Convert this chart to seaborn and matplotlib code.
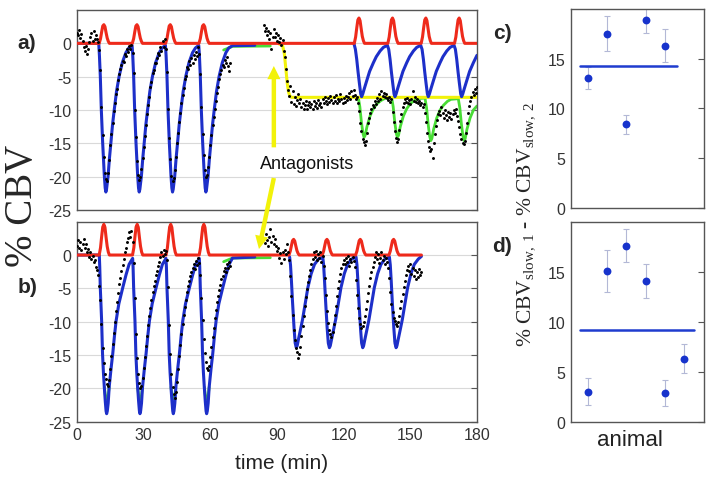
import numpy as np
import matplotlib
matplotlib.use("Agg")
import matplotlib.pyplot as plt
import seaborn as sns

sns.set_style("white")
plt.rcParams["font.family"] = ["Liberation Sans", "DejaVu Sans"]
plt.rcParams["mathtext.fontset"] = "custom"
plt.rcParams["mathtext.rm"] = "Liberation Serif"

RED = "#ee2a1b"
BLUE = "#1d2fc9"
GREEN = "#48dc35"
YELLOW = "#f2f20a"
DOT_BLUE = "#1733cc"

# ---------------- panel a: fitted curves ----------------
RED_A_T = [0, 10.0, 10.6, 11.1, 11.6, 12.1, 12.6, 13.1, 13.6, 14.1, 14.6,
           24.9, 25.5, 26.0, 26.5, 27.0, 27.5, 28.0, 28.5, 29.0, 29.5,
           39.9, 40.5, 41.0, 41.5, 42.0, 42.5, 43.0, 43.5, 44.0, 44.5,
           54.9, 55.5, 56.0, 56.5, 57.0, 57.5, 58.0, 58.5, 59.0, 59.5,
           124.8, 125.4, 125.9, 126.4, 126.9, 127.4, 127.9, 128.4, 128.9, 129.4,
           139.9, 140.5, 141.0, 141.5, 142.0, 142.5, 143.0, 143.5, 144.0, 144.5,
           154.9, 155.5, 156.0, 156.5, 157.0, 157.5, 158.0, 158.5, 159.0, 159.5,
           169.9, 170.5, 171.0, 171.5, 172.0, 172.5, 173.0, 173.5, 174.0, 174.5, 180.0]
RED_A_Y = [0, 0, 0.7, 1.7, 2.6, 2.8, 2.5, 1.6, 0.8, 0.3, 0,
           0, 0.7, 1.7, 2.6, 2.8, 2.5, 1.6, 0.8, 0.3, 0,
           0, 0.7, 1.7, 2.6, 2.8, 2.5, 1.6, 0.8, 0.3, 0,
           0, 0.7, 1.7, 2.6, 2.8, 2.5, 1.6, 0.8, 0.3, 0,
           0, 0.95, 2.3, 3.5, 3.8, 3.4, 2.2, 1.05, 0.4, 0,
           0, 0.95, 2.3, 3.5, 3.8, 3.4, 2.2, 1.05, 0.4, 0,
           0, 0.95, 2.3, 3.5, 3.8, 3.4, 2.2, 1.05, 0.4, 0,
           0, 0.95, 2.3, 3.5, 3.8, 3.4, 2.2, 1.05, 0.4, 0, 0]

BLUE_A1_T = [0, 9.8, 10.1, 10.5, 10.95, 11.55, 12.3, 12.7, 13.0, 13.3, 14.0, 14.6, 15.3, 16.0, 16.8, 17.8, 19.0, 20.4, 22.0, 23.3,
             24.8, 25.1, 25.5, 25.95, 26.55, 27.3, 27.7, 28.0, 28.3, 29.0, 29.6, 30.3, 31.0, 31.8, 32.8, 34.0, 35.4, 37.0, 38.3,
             39.8, 40.1, 40.5, 40.95, 41.55, 42.3, 42.7, 43.0, 43.3, 44.0, 44.6, 45.3, 46.0, 46.8, 47.8, 49.0, 50.4, 52.0, 53.3,
             54.8, 55.1, 55.5, 55.95, 56.55, 57.3, 57.7, 58.0, 58.3, 59.0, 59.6, 60.3, 61.0, 61.8, 62.8, 64.0, 65.4, 67.0, 68.3,
             70.0, 80.0]
BLUE_A1_Y = [0, 0, -1.8, -4.9, -9.9, -14.8, -19.8, -21.7, -22.3, -21.9, -19.9, -17.3, -14.8, -12.2, -9.9, -7.2, -4.9, -2.9, -1.4, -0.7,
             -0.3, -1.8, -4.9, -9.9, -14.8, -19.8, -21.7, -22.3, -21.9, -19.9, -17.3, -14.8, -12.2, -9.9, -7.2, -4.9, -2.9, -1.4, -0.7,
             -0.3, -1.8, -4.9, -9.9, -14.8, -19.8, -21.7, -22.3, -21.9, -19.9, -17.3, -14.8, -12.2, -9.9, -7.2, -4.9, -2.9, -1.4, -0.7,
             -0.3, -1.8, -4.9, -9.9, -14.8, -19.8, -21.7, -22.3, -21.9, -19.9, -17.3, -14.8, -12.2, -9.9, -7.2, -4.9, -2.9, -1.4, -0.7,
             -0.35, -0.3]

BLUE_A2_T = [124.7, 125.3, 125.9, 126.5, 127.1, 127.7, 128.1, 128.6, 129.3, 130.4, 131.7, 133.4, 134.7, 136.4, 137.9,
             139.7, 140.3, 140.9, 141.5, 142.1, 142.7, 143.1, 143.6, 144.3, 145.4, 146.7, 148.4, 149.7, 151.4, 152.9,
             154.7, 155.3, 155.9, 156.5, 157.1, 157.7, 158.1, 158.6, 159.3, 160.4, 161.7, 163.4, 164.7, 166.4, 167.9,
             169.7, 170.3, 170.9, 171.5, 172.1, 172.7, 173.1, 173.6, 174.3, 175.4, 176.7, 178.4, 180.0]
BLUE_A2_Y = [-0.1, -0.9, -2.4, -4.3, -6.0, -7.6, -8.0, -7.6, -6.8, -5.6, -4.2, -2.9, -2.0, -1.15, -0.6,
             -0.3, -0.9, -2.4, -4.3, -6.0, -7.6, -8.0, -7.6, -6.8, -5.6, -4.2, -2.9, -2.0, -1.15, -0.6,
             -0.3, -0.9, -2.4, -4.3, -6.0, -7.6, -8.0, -7.6, -6.8, -5.6, -4.2, -2.9, -2.0, -1.15, -0.6,
             -0.3, -0.9, -2.4, -4.3, -6.0, -7.6, -8.0, -7.6, -6.8, -5.6, -4.2, -2.9, -1.8]

GREEN_A1_T = [66.0, 70.0, 87.0]
GREEN_A1_Y = [-1.0, -0.45, -0.4]

GREEN_A2_T = [126.6, 127.3, 128.0, 128.7, 129.2, 129.7, 130.5, 131.9, 133.4, 134.9, 136.7, 138.3,
              141.6, 142.3, 143.0, 143.7, 144.2, 144.7, 145.5, 146.9, 148.4, 149.9, 151.7, 153.3,
              156.6, 157.3, 158.0, 158.7, 159.2, 159.7, 160.5, 161.9, 163.4, 164.9, 166.7, 168.3,
              171.6, 172.3, 173.0, 173.7, 174.2, 174.7, 175.5, 176.9, 178.4, 180.0]
GREEN_A2_Y = [-8.1, -9.5, -11.8, -13.5, -14.1, -13.8, -12.5, -10.9, -9.8, -9.1, -8.6, -8.3,
              -8.1, -9.5, -11.8, -13.5, -14.1, -13.8, -12.5, -10.9, -9.8, -9.1, -8.6, -8.3,
              -8.2, -9.6, -12.0, -13.9, -14.6, -14.3, -12.9, -11.2, -10.0, -9.3, -8.7, -8.4,
              -8.3, -9.7, -12.1, -13.9, -14.6, -14.3, -12.9, -11.2, -10.0, -9.4]

YELLOW_A_T = [91.0, 92.5, 93.3, 94.0, 94.6, 95.2, 95.8, 96.5, 180.0]
YELLOW_A_Y = [-0.1, -0.3, -1.5, -3.8, -5.9, -7.3, -7.9, -8.1, -8.1]

# ---------------- panel a: measured data (sampled every 0.5 min) ----------------
SAMPLE_STEP = 0.5
DOTS_A1_START = 0.0
DOTS_A1 = [1.6, 1.2, 2.0, 0.8, 1.4, 0.3, -0.5, -1.2, -0.4, -1.6, -0.8, 0.2, 0.9, 1.5, 0.4, 1.8, 0.7, 1.3, 0.6, 0.2,
           -1.0, -4.0, -9.5, -13.8, -17.0, -19.4, -20.3, -20.6, -19.5, -17.5, -15.2, -13.6, -12.0, -10.2, -9.0,
           -7.6, -6.9, -5.5, -4.6, -3.8, -3.3, -2.6, -2.8, -1.6, -1.9, -0.8, -1.3, -0.4, -0.9, -0.2,
           -1.5, -4.5, -10.0, -14.0, -17.6, -19.8, -20.5, -20.0, -18.8, -17.2, -15.6, -13.9, -12.2, -10.6, -9.2,
           -8.0, -6.6, -5.8, -4.5, -4.0, -3.0, -2.9, -2.2, -1.5, -1.8, -0.6, -1.2, 0.3, -0.5, 0.6,
           -0.9, -4.3, -9.8, -14.2, -17.4, -19.9, -20.6, -20.2, -19.0, -17.0, -15.0, -13.4, -11.8, -10.4, -8.9,
           -7.8, -6.7, -5.4, -4.9, -3.5, -3.9, -2.6, -3.2, -2.2, -3.0, -1.8, -2.4, -1.3, -1.9, -0.6,
           -1.6, -4.6, -9.6, -13.6, -16.8, -19.0, -20.0, -19.7, -18.6, -17.0, -15.3, -13.8, -12.3, -11.0, -9.8,
           -8.6, -7.4, -6.5, -5.4, -4.6, -4.0, -3.2, -3.6, -2.5, -2.9, -2.1, -3.4, -4.2, -3.0]
DOTS_A2_START = 84.0
DOTS_A2 = [2.8, 1.9, 2.3, 1.2, 1.8, 0.6, 1.5, -0.9, 1.0, 2.1, 0.9, 1.6, 0.4, 1.2, 0.2, 0.8, -0.3, 0.5, -1.2, -2.0,
           -3.8, -5.6, -7.0, -7.9, -6.4, -8.8, -7.2, -9.1, -8.0, -9.4, -8.5, -7.6, -9.0,
           -8.4, -9.6, -8.9, -9.8, -9.2, -8.7, -9.9, -9.3, -8.8, -9.6, -9.1, -9.8, -8.6, -9.4, -9.0, -9.7, -8.5,
           -9.2, -8.9, -9.5, -8.3, -8.9, -8.0, -8.7, -9.1, -8.2, -8.8, -7.9, -8.5, -9.0, -8.1, -8.6, -7.8, -8.9,
           -8.3, -8.7, -7.6, -8.4, -9.0, -8.2, -8.8, -7.9, -8.5, -8.1, -7.5, -8.3, -7.2, -7.9, -7.0,
           -7.8, -8.4, -8.0, -8.9, -10.2, -11.9, -13.2, -14.3, -14.8, -15.3, -14.6, -13.4, -12.0, -11.2, -10.4,
           -9.9, -9.2, -9.6, -8.7, -9.1, -8.2, -8.6, -7.6, -8.3, -7.2, -7.9, -7.4, -8.0, -7.6, -8.2,
           -8.5, -8.0, -8.8, -8.4, -10.3, -11.8, -13.2, -14.2, -14.8, -14.4, -13.0, -11.6, -10.6, -9.6, -9.0,
           -8.4, -8.8, -8.2, -8.9, -8.5, -9.1, -8.3, -7.2, -8.6, -8.1, -8.8, -8.4, -9.0, -8.6, -9.3,
           -8.9, -9.5, -9.1, -10.4, -11.8, -13.4, -14.6, -15.6, -16.2, -15.8, -17.2, -14.9, -13.6, -12.4, -11.5,
           -10.6, -10.1, -10.8, -9.6, -10.5, -11.2, -10.0, -10.8, -11.5, -10.3, -11.0, -10.4, -11.3, -10.6, -10.0,
           -10.5, -9.8, -10.9, -11.6, -12.5, -13.6, -14.4, -14.9, -15.1, -14.6, -13.4, -12.0, -10.5, -9.4, -8.6,
           -8.0, -7.3, -7.8, -6.9, -7.5, -6.6]

# ---------------- panel b: fitted curves ----------------
RED_B_T = [0, 10.0, 10.6, 11.1, 11.6, 12.1, 12.6, 13.1, 13.6, 14.1, 14.6,
           25.0, 25.6, 26.1, 26.6, 27.1, 27.6, 28.1, 28.6, 29.1, 29.6,
           40.1, 40.7, 41.2, 41.7, 42.2, 42.7, 43.2, 43.7, 44.2, 44.7,
           55.0, 55.6, 56.1, 56.6, 57.1, 57.6, 58.1, 58.6, 59.1, 59.6,
           95.4, 96.0, 96.5, 97.0, 97.5, 98.0, 98.5, 99.0, 99.5, 100.0,
           110.4, 111.0, 111.5, 112.0, 112.5, 113.0, 113.5, 114.0, 114.5, 115.0,
           125.4, 126.0, 126.5, 127.0, 127.5, 128.0, 128.5, 129.0, 129.5, 130.0,
           140.4, 141.0, 141.5, 142.0, 142.5, 143.0, 143.5, 144.0, 144.5, 145.0, 155.0]
RED_B_Y = [0, 0, 1.1, 2.75, 4.2, 4.6, 4.15, 2.65, 1.3, 0.45, 0,
           0, 1.1, 2.75, 4.2, 4.6, 4.15, 2.65, 1.3, 0.45, 0,
           0, 1.1, 2.75, 4.2, 4.6, 4.15, 2.65, 1.3, 0.45, 0,
           0, 1.1, 2.75, 4.2, 4.6, 4.15, 2.65, 1.3, 0.45, 0,
           0, 0.6, 1.4, 2.15, 2.35, 2.1, 1.35, 0.65, 0.25, 0,
           0, 0.6, 1.4, 2.15, 2.35, 2.1, 1.35, 0.65, 0.25, 0,
           0, 0.6, 1.4, 2.15, 2.35, 2.1, 1.35, 0.65, 0.25, 0,
           0, 0.6, 1.4, 2.15, 2.35, 2.1, 1.35, 0.65, 0.25, 0, 0]

BLUE_B1_T = [0, 10.05, 10.25, 10.5, 11.1, 11.5, 11.9, 12.3, 12.75, 13.1, 13.35, 13.65, 14.05, 14.5, 15.35, 16.1, 16.85, 17.6, 18.85, 20.6, 22.05, 23.45,
             25.05, 25.25, 25.5, 26.1, 26.5, 26.9, 27.3, 27.75, 28.1, 28.35, 28.65, 29.05, 29.5, 30.35, 31.1, 31.85, 32.6, 33.85, 35.6, 37.05, 38.45,
             40.05, 40.25, 40.5, 41.1, 41.5, 41.9, 42.3, 42.75, 43.1, 43.35, 43.65, 44.05, 44.5, 45.35, 46.1, 46.85, 47.6, 48.85, 50.6, 52.05, 53.45,
             55.05, 55.25, 55.5, 56.1, 56.5, 56.9, 57.3, 57.75, 58.1, 58.35, 58.65, 59.05, 59.5, 60.35, 61.1, 61.85, 62.6, 63.85, 65.6, 67.05, 68.45,
             70.0, 80.0]
BLUE_B1_Y = [0, 0, -1.8, -4.9, -9.9, -14.8, -17.6, -19.8, -22.0, -23.4, -23.8, -23.4, -22.2, -19.8, -17.0, -14.8, -12.2, -9.9, -7.3, -4.9, -3.0, -1.4,
             -0.5, -1.8, -4.9, -9.9, -14.8, -17.6, -19.8, -22.0, -23.4, -23.8, -23.4, -22.2, -19.8, -17.0, -14.8, -12.2, -9.9, -7.3, -4.9, -3.0, -1.4,
             -0.5, -1.8, -4.9, -9.9, -14.8, -17.6, -19.8, -22.0, -23.4, -23.8, -23.4, -22.2, -19.8, -17.0, -14.8, -12.2, -9.9, -7.3, -4.9, -3.0, -1.4,
             -0.5, -1.8, -4.9, -9.9, -14.8, -17.6, -19.8, -22.0, -23.4, -23.8, -23.4, -22.2, -19.8, -17.0, -14.8, -12.2, -9.9, -7.3, -4.9, -3.0, -1.4,
             -0.45, -0.3]

BLUE_B2_T = [95.7, 96.1, 96.5, 97.0, 97.7, 98.2, 98.7, 99.1, 99.7, 100.7, 101.5, 102.7, 103.9, 105.4, 106.9, 108.7, 110.1,
             110.6, 111.0, 111.4, 111.9, 112.6, 113.1, 113.6, 114.0, 114.6, 115.6, 116.4, 117.6, 118.8, 120.3, 121.8, 123.6, 125.0,
             125.6, 126.0, 126.4, 126.9, 127.6, 128.1, 128.6, 129.0, 129.6, 130.6, 131.4, 132.6, 133.8, 135.3, 136.8, 138.6, 140.0,
             140.6, 141.0, 141.4, 141.9, 142.6, 143.1, 143.6, 144.0, 144.6, 145.6, 146.4, 147.6, 148.8, 150.3, 151.8, 153.6, 155.0]
BLUE_B2_Y = [-0.3, -1.5, -3.8, -7.0, -11.0, -13.2, -13.9, -13.6, -12.6, -11.0, -9.7, -7.3, -4.9, -2.8, -1.4, -0.6, -0.4,
             -0.3, -1.5, -3.8, -7.0, -11.0, -13.2, -13.9, -13.6, -12.6, -11.0, -9.7, -7.3, -4.9, -2.8, -1.4, -0.6, -0.4,
             -0.3, -1.5, -3.8, -7.0, -11.0, -13.2, -13.9, -13.6, -12.6, -11.0, -9.7, -7.3, -4.9, -2.8, -1.4, -0.6, -0.4,
             -0.3, -1.5, -3.8, -7.0, -11.0, -13.2, -13.9, -13.6, -12.6, -11.0, -9.7, -7.3, -4.9, -2.8, -1.4, -0.6, -0.2]

# green fit only shows where it leaves the blue one (nan = gap)
GREEN_B_T = [12.3, 12.75, 13.1, 13.35, 13.65, 14.05, 14.5, np.nan,
             27.3, 27.75, 28.1, 28.35, 28.65, 29.05, 29.5, np.nan,
             42.3, 42.75, 43.1, 43.35, 43.65, 44.05, 44.5, np.nan,
             57.3, 57.75, 58.1, 58.35, 58.65, 59.05, 59.5, np.nan,
             66.0, 70.0, 87.0, np.nan,
             98.2, 98.7, 99.1, np.nan, 113.1, 113.6, 114.0, np.nan,
             128.1, 128.6, 129.0, np.nan, 143.1, 143.6, 144.0]
GREEN_B_Y = [-19.8, -21.0, -21.5, -21.6, -21.5, -21.0, -19.8, np.nan,
             -19.8, -21.0, -21.5, -21.6, -21.5, -21.0, -19.8, np.nan,
             -19.8, -21.0, -21.5, -21.6, -21.5, -21.0, -19.8, np.nan,
             -19.8, -21.0, -21.5, -21.6, -21.5, -21.0, -19.8, np.nan,
             -1.0, -0.45, -0.4, np.nan,
             -12.9, -13.2, -12.9, np.nan, -12.9, -13.2, -12.9, np.nan,
             -12.9, -13.2, -12.9, np.nan, -12.9, -13.2, -12.9]

# ---------------- panel b: measured data ----------------
DOTS_B1_START = 0.0
DOTS_B1 = [1.4, 2.2, 1.1, 1.9, 0.8, 1.6, 2.4, 1.0, 1.7, 0.4, 0.9, -0.3, 0.5, -0.6, -0.2, -1.1, -0.7, -1.8, -2.3, -3.0,
           -4.6, -6.8, -10.4, -13.9, -16.2, -17.8, -18.6, -19.3, -19.6, -18.8, -17.1, -15.2, -13.4, -11.7, -10.1,
           -8.4, -7.0, -5.7, -4.4, -3.5, -2.4, -1.5, -0.6, 0.4, 1.1, 1.9, 2.6, 3.4, 2.7, 3.6,
           2.0, -1.2, -6.5, -11.8, -15.4, -17.9, -19.2, -19.9, -19.6, -18.5, -17.0, -15.3, -13.6, -12.1, -10.5,
           -9.2, -7.9, -6.8, -5.6, -4.7, -3.9, -3.0, -2.4, -1.6, -1.1, -0.3, 0.4, -0.2, 0.7, 0.1,
           0.6, -0.8, -4.8, -10.5, -14.8, -17.9, -19.8, -20.9, -21.4, -20.6, -19.0, -17.1, -15.2, -13.5, -11.9,
           -10.4, -9.0, -7.8, -6.7, -5.6, -4.6, -3.9, -3.1, -2.6, -2.0, -1.4, -2.1, -0.9, -1.5, -0.5,
           -1.2, -3.0, -6.5, -9.8, -12.6, -14.7, -16.1, -16.9, -17.3, -16.6, -15.3, -13.8, -12.3, -10.9, -9.5,
           -8.3, -7.1, -6.2, -5.2, -4.5, -3.6, -3.1, -2.4, -1.9, -2.6, -1.4, -2.0, -1.1, -1.7]
DOTS_B2_START = 84.0
DOTS_B2 = [2.6, 1.8, 3.1, 2.2, 1.4, 2.7, 3.9, 2.0, 2.9, 1.6, 2.4, 1.3, 0.6, 1.1, -0.4, 0.3, -1.2, 0.5, -0.6, 0.8,
           0.2, 1.6, 0.4, -0.8, -3.2, -6.1, -9.0, -11.2, -12.8, -14.0, -14.6, -15.4, -14.9, -13.8, -12.2,
           -10.7, -9.1, -7.6, -6.3, -5.1, -4.0, -3.1, -2.2, -1.4, -0.6, 0.4, -0.3, 0.6, -0.8, 0.2, -0.5, 0.5, -1.0, -0.2,
           -1.6, -3.4, -6.0, -8.4, -10.2, -11.3, -11.9, -12.3, -11.6, -10.4, -9.0, -7.6, -6.2, -5.0, -3.9,
           -2.9, -2.0, -1.4, -0.7, -1.3, -0.4, -1.0, -0.2, -1.6, -0.6, -1.1, -0.3, -0.9, -1.8, -3.8,
           -6.0, -8.0, -9.4, -10.3, -10.9, -10.6, -10.1, -9.2, -8.1, -6.9, -5.7, -4.6, -3.5, -2.6, -1.8,
           -1.0, -0.3, 0.4, -0.6, 0.2, -1.2, -0.4, 0.5, -0.8, -0.1, -1.4, -0.5, -1.1, -1.9, -3.4,
           -5.5, -7.4, -8.6, -9.4, -9.9, -10.4, -10.6, -10.0, -9.1, -8.0, -6.9, -5.8, -4.8, -3.9, -3.0,
           -2.2, -1.6, -2.4, -1.4, -2.8, -1.9, -3.2, -2.3, -3.6, -2.6, -3.3, -2.1, -3.0, -2.5]

# ---------------- panels c, d ----------------
ANIMAL_C = [1, 2, 3, 4, 5]
SLOW_DIFF_C = [13.1, 17.5, 8.4, 18.9, 16.3]
SLOW_ERR_C = [1.1, 1.75, 0.95, 1.3, 1.65]
MEAN_C_X = [0.58, 5.63]
MEAN_C_Y = [14.3, 14.3]

ANIMAL_D = [1, 2, 3, 4, 5, 6]
SLOW_DIFF_D = [3.0, 15.1, 17.6, 14.1, 2.9, 6.3]
SLOW_ERR_D = [1.35, 2.1, 1.65, 1.7, 1.3, 1.45]
MEAN_D_X = [0.58, 6.52]
MEAN_D_Y = [9.15, 9.15]

TIME_TICKS = [0, 30, 60, 90, 120, 150, 180]
CBV_TICKS = [0, -5, -10, -15, -20, -25]
DIFF_TICKS = [0, 5, 10, 15]


def draw_line(ax, t, y, color, lw, z):
    # split at nan so separate pieces are not joined
    t = np.asarray(t, dtype=float)
    y = np.asarray(y, dtype=float)
    breaks = np.where(np.isnan(t))[0]
    for seg in np.split(np.arange(len(t)), breaks):
        seg = seg[~np.isnan(t[seg])]
        if len(seg) < 2:
            continue
        sns.lineplot(x=t[seg], y=y[seg], ax=ax, color=color, lw=lw, sort=False,
                     estimator=None, legend=False, zorder=z)


def draw_dots(ax, start, vals):
    t = start + SAMPLE_STEP * np.arange(len(vals))
    sns.scatterplot(x=t, y=vals, ax=ax, s=4.5, color="black", linewidth=0, zorder=6)


def style_time_axis(ax, show_labels):
    ax.set_xlim(0, 180)
    ax.set_ylim(-25, 5)
    ax.set_xticks(TIME_TICKS)
    ax.set_xticks(range(15, 180, 30), minor=True)
    ax.set_yticks(CBV_TICKS)
    ax.set_yticklabels([str(v) for v in CBV_TICKS])
    if not show_labels:
        ax.set_xticklabels([])
    ax.yaxis.grid(True, color="#d9d9d9", lw=0.8)
    ax.set_axisbelow(True)
    ax.tick_params(which="both", direction="in", right=True, top=False,
                   labelsize=11.5, labelcolor="#333333", color="#555555")
    ax.tick_params(which="major", length=4, pad=4)
    ax.tick_params(which="minor", length=3)
    for s in ax.spines.values():
        s.set_color("#555555")
        s.set_linewidth(1.0)
    ax.set_xlabel("")
    ax.set_ylabel("")


def style_animal_axis(ax):
    ax.set_xlim(0.1, 7.05)
    ax.set_ylim(0, 20)
    ax.set_xticks([])
    ax.set_yticks(DIFF_TICKS)
    ax.tick_params(direction="in", right=True, length=4, labelsize=11.5,
                   labelcolor="#333333", color="#555555", pad=4)
    for s in ax.spines.values():
        s.set_color("#555555")
        s.set_linewidth(1.0)
    ax.set_xlabel("")
    ax.set_ylabel("")


fig = plt.figure(figsize=(7.14, 4.81), dpi=100)
ax_a = fig.add_axes([0.1078, 0.5613, 0.5602, 0.4158])
ax_b = fig.add_axes([0.1078, 0.1212, 0.5602, 0.4158])
ax_c = fig.add_axes([0.7997, 0.5655, 0.1863, 0.4137])
ax_d = fig.add_axes([0.7997, 0.1206, 0.1863, 0.4158])

# panel a
draw_line(ax_a, GREEN_A1_T, GREEN_A1_Y, GREEN, 2.0, 2)
draw_line(ax_a, GREEN_A2_T, GREEN_A2_Y, GREEN, 2.0, 2)
draw_line(ax_a, YELLOW_A_T, YELLOW_A_Y, YELLOW, 2.2, 3)
draw_line(ax_a, BLUE_A1_T, BLUE_A1_Y, BLUE, 2.2, 4)
draw_line(ax_a, BLUE_A2_T, BLUE_A2_Y, BLUE, 2.2, 4)
draw_line(ax_a, RED_A_T, RED_A_Y, RED, 2.2, 5)
draw_dots(ax_a, DOTS_A1_START, DOTS_A1)
draw_dots(ax_a, DOTS_A2_START, DOTS_A2)
style_time_axis(ax_a, False)

# panel b
draw_line(ax_b, GREEN_B_T, GREEN_B_Y, GREEN, 2.0, 2)
draw_line(ax_b, BLUE_B1_T, BLUE_B1_Y, BLUE, 2.2, 4)
draw_line(ax_b, BLUE_B2_T, BLUE_B2_Y, BLUE, 2.2, 4)
draw_line(ax_b, RED_B_T, RED_B_Y, RED, 2.2, 5)
draw_dots(ax_b, DOTS_B1_START, DOTS_B1)
draw_dots(ax_b, DOTS_B2_START, DOTS_B2)
style_time_axis(ax_b, True)

# antagonist arrows and label
arrow_style = "simple,head_width=0.95,head_length=0.95,tail_width=0.32"
ax_a.text(103.5, -18.0, "Antagonists", fontsize=13, ha="center", va="center",
          color="#111111", zorder=8)
ax_a.annotate("", xy=(88.6, -3.4), xytext=(88.6, -15.6),
              arrowprops=dict(arrowstyle=arrow_style, color=YELLOW, lw=0,
                              mutation_scale=10, shrinkA=0, shrinkB=0), zorder=8)
ax_b.annotate("", xy=(81.9, 0.9), xycoords="data",
              xytext=(88.6, -20.2), textcoords=ax_a.transData,
              arrowprops=dict(arrowstyle=arrow_style, color=YELLOW, lw=0,
                              mutation_scale=10, shrinkA=0, shrinkB=0),
              annotation_clip=False, zorder=8)

# panels c, d
for ax, xs, ys, es, mx, my in [(ax_c, ANIMAL_C, SLOW_DIFF_C, SLOW_ERR_C, MEAN_C_X, MEAN_C_Y),
                               (ax_d, ANIMAL_D, SLOW_DIFF_D, SLOW_ERR_D, MEAN_D_X, MEAN_D_Y)]:
    ax.errorbar(xs, ys, yerr=es, fmt="none", ecolor="#b3b8d6", elinewidth=0.8,
                capsize=2, capthick=0.8, zorder=2)
    sns.lineplot(x=mx, y=my, ax=ax, color="#1f3ccf", lw=1.8, estimator=None, zorder=3)
    sns.scatterplot(x=xs, y=ys, ax=ax, s=32, color=DOT_BLUE, linewidth=0, zorder=4)
    style_animal_axis(ax)

# labels
serif = ["Liberation Serif", "DejaVu Serif"]
fig.text(0.031, 0.572, "% CBV", rotation=90, ha="center", va="center",
         fontsize=28, family=serif)
fig.text(0.738, 0.534, r"% CBV$_{\mathrm{slow,\,1}}$ - % CBV$_{\mathrm{slow,\,2}}$",
         rotation=90, ha="center", va="center", fontsize=15.5, family=serif)
for lab, x, y in [("a)", 0.038, 0.9106), ("b)", 0.038, 0.4033),
                  ("c)", 0.703, 0.931), ("d)", 0.703, 0.4865)]:
    fig.text(x, y, lab, fontsize=15, fontweight="bold", ha="center", va="center")
fig.text(0.395, 0.037, "time (min)", fontsize=15, ha="center", va="center", color="#222222")
fig.text(0.882, 0.085, "animal", fontsize=16, ha="center", va="center", color="#222222")

fig.savefig("out.png", dpi=100)
